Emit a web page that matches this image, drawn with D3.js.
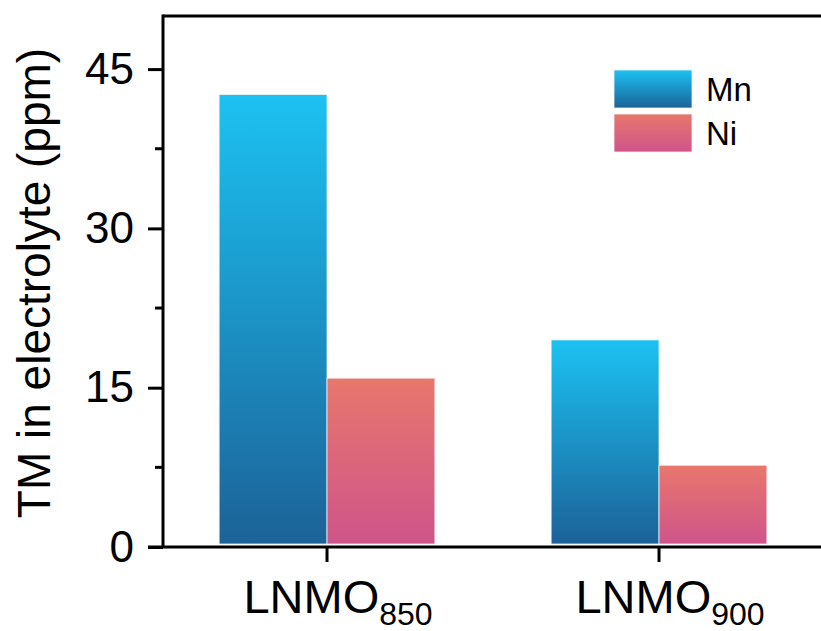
<!DOCTYPE html>
<html>
<head>
<meta charset="utf-8">
<script src="https://cdn.jsdelivr.net/npm/d3@7"></script>
<style>
  body { margin: 0; background: #fff; }
  text { font-family: "Liberation Sans", Arial, sans-serif; fill: #000; }
</style>
</head>
<body>
<div id="chart"></div>
<script>
// Data
const samples = ["LNMO", "LNMO"];
const subscripts = ["850", "900"];
const samplePos = [1, 2];
const mnValues = [42.6, 19.5];
const niValues = [15.9, 7.7];
const yTicks = [0, 15, 30, 45];
const yMinorTicks = [7.5, 22.5, 37.5];

const width = 821;
const height = 631;
const plotLeft = 163, plotTop = 16, plotBottom = 547, plotRight = 830;

const svg = d3.select("#chart").append("svg")
    .attr("width", width)
    .attr("height", height);

const defs = svg.append("defs");
function grad(id, c1, c2) {
  const g = defs.append("linearGradient").attr("id", id)
      .attr("x1", 0).attr("y1", 0).attr("x2", 0).attr("y2", 1);
  g.append("stop").attr("offset", "0%").attr("stop-color", c1);
  g.append("stop").attr("offset", "100%").attr("stop-color", c2);
}
grad("gMn", "#1cc2f2", "#1b6298");
grad("gNi", "#e8776c", "#cf548b");

const x = d3.scaleLinear().domain([0.506, 2.515]).range([plotLeft, plotRight]);
const y = d3.scaleLinear().domain([0, 50]).range([plotBottom, plotTop]);
const barW = 0.325;

// Bars
const series = [
  { name: "Mn", values: mnValues, fill: "url(#gMn)", offset: -barW },
  { name: "Ni", values: niValues, fill: "url(#gNi)", offset: 0 }
];
series.forEach(s => {
  svg.append("g").selectAll("rect")
    .data(s.values)
    .enter().append("rect")
    .attr("x", (d, i) => x(samplePos[i] + s.offset))
    .attr("width", x(barW) - x(0))
    .attr("y", d => y(d))
    .attr("height", d => y(0) - y(d) - 3)
    .attr("fill", s.fill)
    .attr("stroke", "#f2f2f2")
    .attr("stroke-width", 0.8);
});

// Y axis
const yAxis = svg.append("g")
    .attr("transform", `translate(${plotLeft},0)`)
    .call(d3.axisLeft(y).tickValues(yTicks).tickSize(15).tickSizeOuter(0).tickPadding(14));
yAxis.select(".domain").remove();
yAxis.selectAll(".tick line").attr("stroke-width", 3);
yAxis.selectAll(".tick text")
    .style("font-size", "44px")
    .style("font-family", "'Liberation Sans', Arial, sans-serif");

svg.append("g")
    .attr("transform", `translate(${plotLeft},0)`)
    .selectAll("line")
    .data(yMinorTicks)
    .enter().append("line")
    .attr("x1", -8).attr("x2", 0)
    .attr("y1", d => y(d)).attr("y2", d => y(d))
    .attr("stroke", "#000").attr("stroke-width", 3);

// X axis ticks
svg.append("g")
    .attr("transform", `translate(0,${plotBottom})`)
    .selectAll("line")
    .data(samplePos)
    .enter().append("line")
    .attr("x1", d => x(d)).attr("x2", d => x(d))
    .attr("y1", 0).attr("y2", 15)
    .attr("stroke", "#000").attr("stroke-width", 3);

// Frame lines
svg.append("line")
    .attr("x1", plotLeft).attr("x2", plotLeft)
    .attr("y1", plotTop - 1.5).attr("y2", plotBottom)
    .attr("stroke", "#000").attr("stroke-width", 3);
svg.append("line")
    .attr("x1", plotLeft - 15).attr("x2", width)
    .attr("y1", plotBottom).attr("y2", plotBottom)
    .attr("stroke", "#000").attr("stroke-width", 3);
svg.append("line")
    .attr("x1", plotLeft).attr("x2", width)
    .attr("y1", plotTop).attr("y2", plotTop)
    .attr("stroke", "#000").attr("stroke-width", 3);

// X labels with subscripts
const xl = svg.append("g").selectAll("text")
    .data(samples)
    .enter().append("text")
    .attr("x", (d, i) => x(samplePos[i]) + 11)
    .attr("y", 613)
    .attr("text-anchor", "middle")
    .style("font-size", "47px");
xl.append("tspan").text(d => d);
xl.append("tspan")
    .attr("dy", 12)
    .style("font-size", "32px")
    .text((d, i) => subscripts[i]);

// Y title
svg.append("text")
    .attr("transform", "translate(50,283) rotate(-90)")
    .attr("text-anchor", "middle")
    .style("font-size", "46px")
    .text("TM in electrolyte (ppm)");

// Legend
const legend = svg.append("g");
series.forEach((s, i) => {
  legend.append("rect")
    .attr("x", 614).attr("y", 70 + i * 44)
    .attr("width", 78).attr("height", 38)
    .attr("fill", s.fill)
    .attr("stroke", "#f2f2f2").attr("stroke-width", 0.8);
  legend.append("text")
    .attr("x", 706).attr("y", 89 + i * 44)
    .attr("dy", "0.35em")
    .style("font-size", "33px")
    .text(s.name);
});
</script>
</body>
</html>
